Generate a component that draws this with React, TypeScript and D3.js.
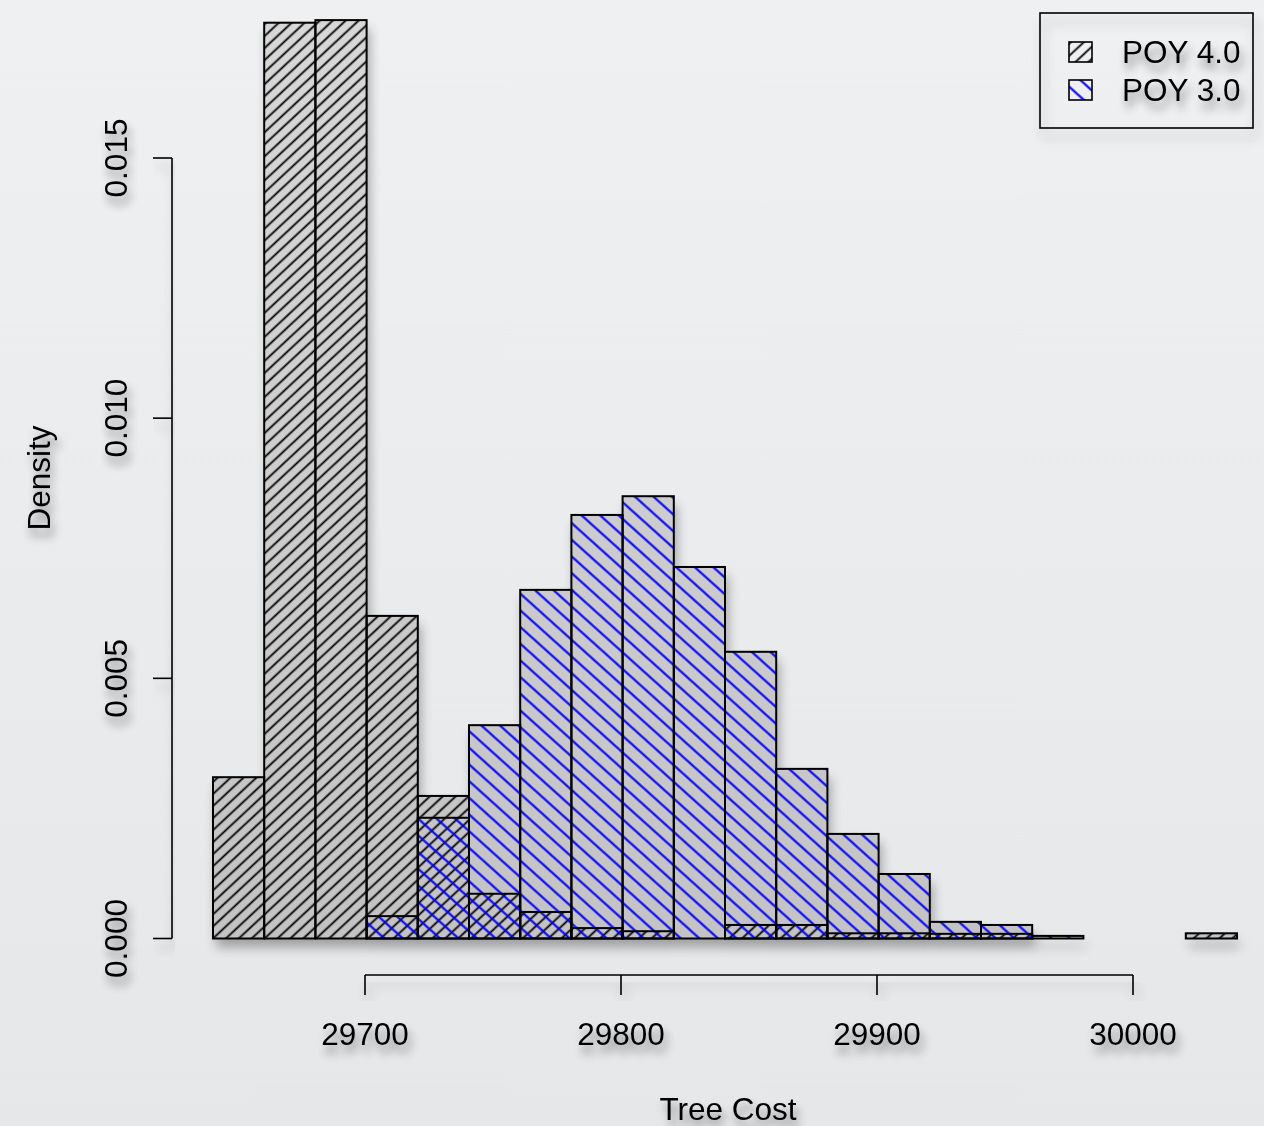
import React from 'react';
import * as d3 from 'd3';

// Histogram densities, 20-unit bins
const binWidth = 20;
const poy4Start = 29640;
const poy4Density = [
  0.0031, 0.0176, 0.01765, 0.0062, 0.00274, 0.00086, 0.00051, 0.0002, 0.00014, 0,
  0.00026, 0.00026, 0.0001, 0.0001, 0.00009, 0.00009, 0, 0, 0, 0.0001,
];
const poy3Start = 29700;
const poy3Density = [
  0.00043, 0.00232, 0.0041, 0.0067, 0.00814, 0.0085, 0.00714, 0.00551, 0.00326,
  0.00201, 0.00124, 0.00032, 0.00026, 0.00005,
];
const xTicks = [29700, 29800, 29900, 30000];
const yTicks = [0, 0.005, 0.01, 0.015];
const yTickLabels = ['0.000', '0.005', '0.010', '0.015'];
const legendLabels = ['POY 4.0', 'POY 3.0'];
const xTitle = 'Tree Cost';
const yTitle = 'Density';

const W = 1264;
const H = 1126;
const FONT = '"Liberation Sans", Arial, Helvetica, sans-serif';

type Bin = { x0: number; x1: number; d: number };
const toBins = (start: number, vals: number[]): Bin[] =>
  vals.map((d, i) => ({ x0: start + i * binWidth, x1: start + (i + 1) * binWidth, d }));

export default function App() {
  const x = d3.scaleLinear().domain([29700, 30000]).range([365, 1133]);
  const y = d3.scaleLinear().domain([0, 0.015]).range([938.5, 158]);
  const barShift = 1.6;

  const bins4 = toBins(poy4Start, poy4Density);
  const bins3 = toBins(poy3Start, poy3Density);

  const rect = (b: Bin) => ({
    x: x(b.x0) + barShift,
    y: y(b.d),
    width: x(b.x1) - x(b.x0),
    height: y(0) - y(b.d),
  });

  const fs = 31.5;

  return (
    <svg
      width={W}
      height={H}
      style={{ position: 'absolute', left: 0, top: 0, display: 'block' }}
      xmlns="http://www.w3.org/2000/svg"
    >
      <defs>
        <linearGradient id="bg" x1="0" y1="0" x2="0" y2="1">
          <stop offset="0" stopColor="#eef0f1" />
          <stop offset="1" stopColor="#e6e7e9" />
        </linearGradient>
        <linearGradient id="barFill" gradientUnits="userSpaceOnUse" x1="0" y1="0" x2="0" y2="940">
          <stop offset="0" stopColor="#d8d8d8" />
          <stop offset="1" stopColor="#c3c3c3" />
        </linearGradient>
        <pattern
          id="hatch4"
          patternUnits="userSpaceOnUse"
          width="20"
          height="8.8"
          patternTransform="rotate(-43)"
        >
          <line x1="0" y1="4.4" x2="20" y2="4.4" stroke="#000" strokeWidth="1.8" />
        </pattern>
        <pattern
          id="hatch3"
          patternUnits="userSpaceOnUse"
          width="20"
          height="12.4"
          patternTransform="rotate(42)"
        >
          <line x1="0" y1="6.2" x2="20" y2="6.2" stroke="#0000ff" strokeWidth="2.1" />
        </pattern>
        <filter id="shadow" x="-10%" y="-10%" width="125%" height="140%">
          <feGaussianBlur in="SourceAlpha" stdDeviation="6" />
          <feOffset dx="3" dy="9" result="off" />
          <feComponentTransfer>
            <feFuncA type="linear" slope="0.32" />
          </feComponentTransfer>
          <feMerge>
            <feMergeNode />
            <feMergeNode in="SourceGraphic" />
          </feMerge>
        </filter>
        <filter id="textShadow" x="-20%" y="-40%" width="140%" height="220%">
          <feGaussianBlur in="SourceAlpha" stdDeviation="5" />
          <feOffset dx="3" dy="8" result="off" />
          <feComponentTransfer>
            <feFuncA type="linear" slope="0.45" />
          </feComponentTransfer>
          <feMerge>
            <feMergeNode />
            <feMergeNode in="SourceGraphic" />
          </feMerge>
        </filter>
      </defs>

      <rect x={0} y={0} width={W} height={H} fill="url(#bg)" />

      {/* bar fills with shadow */}
      <g filter="url(#shadow)">
        {bins4.map((b, i) => (
          <rect key={'f4' + i} {...rect(b)} fill="url(#barFill)" />
        ))}
        {bins3.map((b, i) => (
          <rect key={'f3' + i} {...rect(b)} fill="url(#barFill)" />
        ))}
      </g>
      {/* hatching and outlines */}
      <g>
        {bins4.map((b, i) => (
          <rect key={'h4' + i} {...rect(b)} fill="url(#hatch4)" />
        ))}
        {bins3.map((b, i) => (
          <rect key={'h3' + i} {...rect(b)} fill="url(#hatch3)" />
        ))}
        {bins4.map((b, i) => (
          <rect key={'o4' + i} {...rect(b)} fill="none" stroke="#000" strokeWidth={2} />
        ))}
        {bins3.map((b, i) => (
          <rect key={'o3' + i} {...rect(b)} fill="none" stroke="#000" strokeWidth={2} />
        ))}
      </g>

      {/* y axis */}
      <g filter="url(#shadow)" stroke="#000" strokeWidth={1.6} fill="none">
        <line x1={172} x2={172} y1={y(0)} y2={y(0.015)} />
        {yTicks.map((t) => (
          <line key={t} x1={153} x2={172} y1={y(t)} y2={y(t)} />
        ))}
      </g>
      <g filter="url(#textShadow)" fontFamily={FONT} fontSize={fs} fill="#000">
        {yTicks.map((t, i) => (
          <text
            key={t}
            transform={`translate(127,${y(t)}) rotate(-90)`}
            textAnchor="middle"
          >
            {yTickLabels[i]}
          </text>
        ))}
        <text transform={`translate(50,478) rotate(-90)`} textAnchor="middle">
          {yTitle}
        </text>
      </g>

      {/* x axis */}
      <g filter="url(#shadow)" stroke="#000" strokeWidth={1.6} fill="none">
        <line x1={x(29700)} x2={x(30000)} y1={975} y2={975} />
        {xTicks.map((t) => (
          <line key={t} x1={x(t)} x2={x(t)} y1={975} y2={995} />
        ))}
      </g>
      <g filter="url(#textShadow)" fontFamily={FONT} fontSize={fs} fill="#000">
        {xTicks.map((t) => (
          <text key={t} x={x(t)} y={1045} textAnchor="middle">
            {t}
          </text>
        ))}
        <text x={728} y={1120} textAnchor="middle">
          {xTitle}
        </text>
      </g>

      {/* legend */}
      <g>
        <rect
          x={1040}
          y={13}
          width={213}
          height={115}
          fill="none"
          stroke="#000"
          strokeWidth={1.6}
          filter="url(#shadow)"
        />
        <rect x={1069} y={42} width={23} height={20} fill="url(#hatch4)" />
        <rect x={1069} y={42} width={23} height={20} fill="none" stroke="#000" strokeWidth={1.6} />
        <rect x={1069} y={80} width={23} height={20} fill="url(#hatch3)" />
        <rect x={1069} y={80} width={23} height={20} fill="none" stroke="#000" strokeWidth={1.6} />
        <g filter="url(#textShadow)" fontFamily={FONT} fontSize={fs} fill="#000">
          <text x={1122} y={63}>{legendLabels[0]}</text>
          <text x={1122} y={101}>{legendLabels[1]}</text>
        </g>
      </g>
    </svg>
  );
}
